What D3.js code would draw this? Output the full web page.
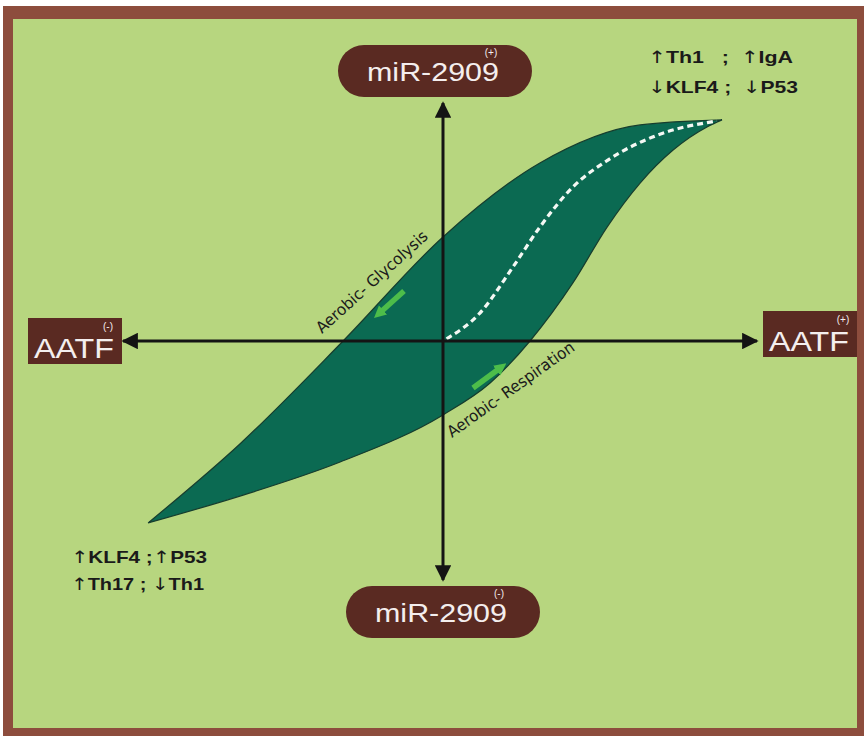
<!DOCTYPE html>
<html>
<head>
<meta charset="utf-8">
<script src="https://cdn.jsdelivr.net/npm/d3@7"></script>
<style>
  body { margin: 0; background: #fff; }
  svg { display: block; }
</style>
</head>
<body>
<svg id="chart"></svg>
<script>
// unit coords: axes cross at (0,0), x right, y up
var upperEdge = [
    [-0.983, -0.827], [-0.677, -0.468], [-0.333, 0], [0, 0.473],
    [0.323, 0.809], [0.657, 0.982], [0.93, 1.005]
];
var lowerEdge = [
    [-0.983, -0.827], [-0.677, -0.705], [-0.343, -0.55], [0, -0.336],
    [0.157, -0.191], [0.29, 0], [0.433, 0.264], [0.547, 0.518],
    [0.657, 0.718], [0.767, 0.868], [0.88, 0.973], [0.93, 1.005]
];
var midLine = [
    [0.012, 0.01], [0.123, 0.127], [0.233, 0.336], [0.323, 0.518],
    [0.433, 0.7], [0.547, 0.82], [0.713, 0.935], [0.913, 1.0]
];
var flowArrows = [
    [[-0.13, 0.227], [-0.215, 0.123]],   // glycolysis, down-left
    [[0.1, -0.214], [0.195, -0.118]]     // respiration, up-right
];
var topNotes = [["\u2191", "Th1   ;  ", "\u2191", "IgA"], ["\u2193", "KLF4 ;  ", "\u2193", "P53"]];
var bottomNotes = [["\u2191", "KLF4 ;", "\u2191", "P53"], ["\u2191", "Th17 ; ", "\u2193", "Th1"]];
var pathLabels = ["Aerobic- Glycolysis", "Aerobic- Respiration"];

var width = 864,
    height = 736;
var cx = 443, cy = 341;

var x = d3.scaleLinear().domain([-1, 1]).range([cx - 300, cx + 300]);
var y = d3.scaleLinear().domain([-1, 1]).range([cy + 220, cy - 220]);

var svg = d3.select("#chart")
    .attr("width", width)
    .attr("height", height);

// frame
svg.append("rect").attr("x", 3).attr("y", 6).attr("width", 861).attr("height", 730).attr("fill", "#8d4d3d");
svg.append("rect").attr("x", 13).attr("y", 19).attr("width", 844).attr("height", 709).attr("fill", "#b7d67f");

var defs = svg.append("defs");
defs.append("marker")
    .attr("id", "ah")
    .attr("viewBox", "0 0 10 10")
    .attr("refX", 9).attr("refY", 5)
    .attr("markerWidth", 6.5).attr("markerHeight", 5.5)
    .attr("markerUnits", "strokeWidth")
    .attr("orient", "auto")
    .append("path").attr("d", "M0,0 L10,5 L0,10 Z").attr("fill", "#141414");
defs.append("marker")
    .attr("id", "gh")
    .attr("viewBox", "0 0 10 10")
    .attr("refX", 5).attr("refY", 5)
    .attr("markerWidth", 2.2).attr("markerHeight", 2.8)
    .attr("orient", "auto")
    .append("path").attr("d", "M0,0 L10,5 L0,10 Z").attr("fill", "#4dbd4a");

var line = d3.line()
    .x(function(d) { return x(d[0]); })
    .y(function(d) { return y(d[1]); })
    .curve(d3.curveMonotoneX);

// leaf shaped band
var shapePath = line(upperEdge) + line(lowerEdge.slice().reverse()).replace(/^M/, "L") + "Z";
svg.append("path")
    .attr("d", shapePath)
    .attr("fill", "#0b6a52")
    .attr("stroke", "#163d2e")
    .attr("stroke-width", 1.2);

svg.append("path")
    .attr("d", line(midLine))
    .attr("fill", "none")
    .attr("stroke", "#f4f8f4")
    .attr("stroke-width", 3.2)
    .attr("stroke-dasharray", "6,4");

// axes
var axisEnds = [[x(0), 103], [x(0), 580], [123, y(0)], [757, y(0)]];
axisEnds.forEach(function(e) {
    svg.append("line")
        .attr("x1", x(0)).attr("y1", y(0))
        .attr("x2", e[0]).attr("y2", e[1])
        .attr("stroke", "#141414").attr("stroke-width", 3)
        .attr("marker-end", "url(#ah)");
});

// small green flow arrows
flowArrows.forEach(function(a) {
    svg.append("line")
        .attr("x1", x(a[0][0])).attr("y1", y(a[0][1]))
        .attr("x2", x(a[1][0])).attr("y2", y(a[1][1]))
        .attr("stroke", "#4dbd4a").attr("stroke-width", 5.5)
        .attr("marker-end", "url(#gh)");
});

// path labels
svg.append("text")
    .attr("transform", "translate(322,334) rotate(-42)")
    .attr("font-family", "'Liberation Sans Narrow', 'DejaVu Sans Condensed', sans-serif")
    .attr("font-size", 16)
    .attr("textLength", 144)
    .attr("lengthAdjust", "spacingAndGlyphs")
    .attr("fill", "#1b1b1b")
    .text(pathLabels[0]);
svg.append("text")
    .attr("transform", "translate(452,438) rotate(-35.5)")
    .attr("font-family", "'Liberation Sans Narrow', 'DejaVu Sans Condensed', sans-serif")
    .attr("font-size", 16)
    .attr("textLength", 152)
    .attr("lengthAdjust", "spacingAndGlyphs")
    .attr("fill", "#1b1b1b")
    .text(pathLabels[1]);

// miR-2909 pills
function pill(cxp, cyp, sup) {
    var g = svg.append("g");
    g.append("rect")
        .attr("x", cxp - 97).attr("y", cyp - 26)
        .attr("width", 194).attr("height", 52)
        .attr("rx", 26)
        .attr("fill", "#5a2a22");
    g.append("text")
        .attr("x", cxp - 2).attr("y", cyp + 10)
        .attr("text-anchor", "middle")
        .attr("font-family", "'Liberation Sans', Arial, sans-serif")
        .attr("font-size", 26)
        .attr("textLength", 132)
        .attr("lengthAdjust", "spacingAndGlyphs")
        .attr("fill", "#f4eeee")
        .text("miR-2909");
    g.append("text")
        .attr("x", cxp + 56).attr("y", cyp - 15)
        .attr("text-anchor", "middle")
        .attr("font-family", "'Liberation Sans', Arial, sans-serif")
        .attr("font-size", 10)
        .attr("fill", "#f4eeee")
        .text(sup);
}
pill(435, 71, "(+)");
pill(443, 612, "(-)");

// AATF boxes
function box(x0, y0, sup) {
    var g = svg.append("g");
    g.append("rect")
        .attr("x", x0).attr("y", y0)
        .attr("width", 94).attr("height", 46)
        .attr("fill", "#5a2a22");
    g.append("text")
        .attr("x", x0 + 46).attr("y", y0 + 40)
        .attr("text-anchor", "middle")
        .attr("font-family", "'Liberation Sans', Arial, sans-serif")
        .attr("font-size", 27)
        .attr("textLength", 80)
        .attr("lengthAdjust", "spacingAndGlyphs")
        .attr("fill", "#f4eeee")
        .text("AATF");
    g.append("text")
        .attr("x", x0 + 80).attr("y", y0 + 12)
        .attr("text-anchor", "middle")
        .attr("font-family", "'Liberation Sans', Arial, sans-serif")
        .attr("font-size", 10)
        .attr("fill", "#f4eeee")
        .text(sup);
}
box(28, 318, "(-)");
box(763, 311, "(+)");

// gene notes
function notes(rows, x0, y0, dy, widths) {
    rows.forEach(function(parts, i) {
        var t = svg.append("text")
            .attr("x", x0)
            .attr("y", y0 + i * dy)
            .attr("font-family", "'Liberation Sans Narrow', 'Liberation Sans', Arial, sans-serif")
            .attr("font-weight", "bold")
            .attr("font-size", 17)
            .attr("fill", "#1a1a1a")
            .attr("textLength", widths[i])
            .attr("lengthAdjust", "spacingAndGlyphs")
            .style("white-space", "pre");
        parts.forEach(function(p) {
            var isArrow = (p == "\u2191" || p == "\u2193");
            t.append("tspan")
                .attr("font-family", isArrow ? "'DejaVu Sans', sans-serif" : null)
                .attr("font-weight", isArrow ? "normal" : null)
                .text(p);
        });
    });
}
notes(topNotes, 648, 63, 30, [145, 150]);
notes(bottomNotes, 71, 563, 27, [136, 133]);
</script>
</body>
</html>
